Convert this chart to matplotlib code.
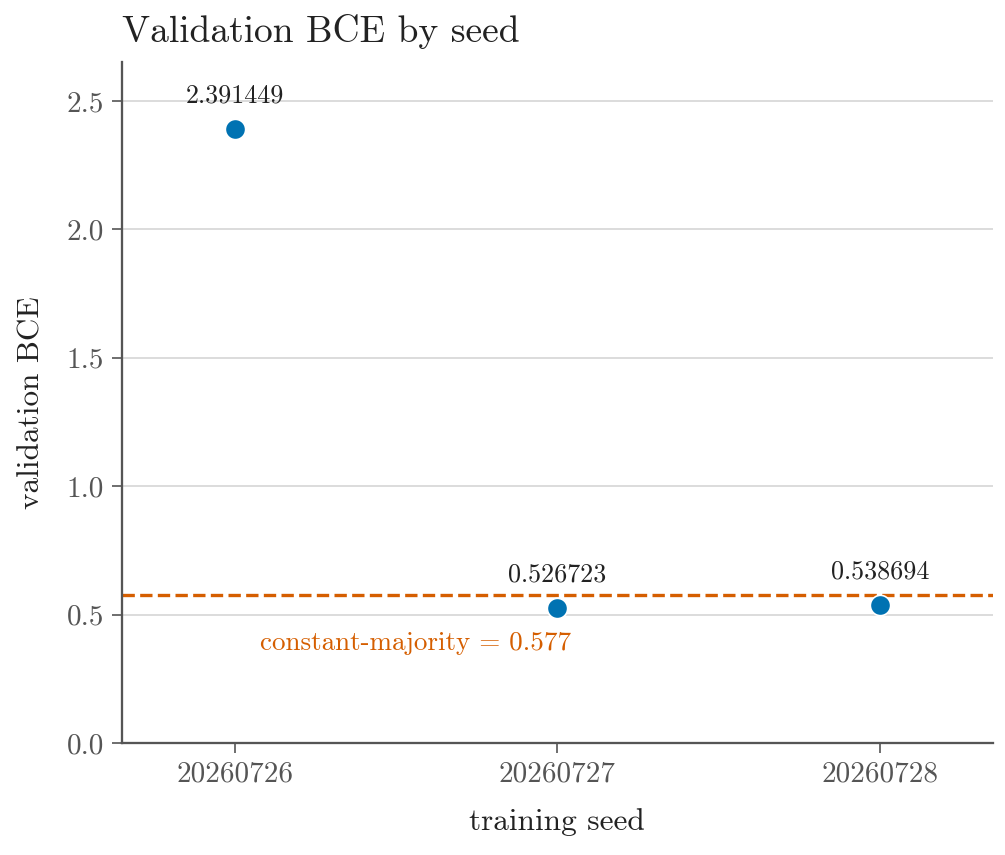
import numpy as np
import matplotlib.pyplot as plt

plt.rcParams['font.family'] = 'serif'
plt.rcParams['font.serif'] = ['cmr10', 'DejaVu Serif']
plt.rcParams['mathtext.fontset'] = 'cm'
plt.rcParams['axes.formatter.use_mathtext'] = True

seeds = ['20260726', '20260727', '20260728']
bce = [2.391449, 0.526723, 0.538694]
baseline = 0.577

fig, ax = plt.subplots(figsize=(6.7, 5.7), dpi=150)
fig.subplots_adjust(left=0.121, right=0.988, top=0.927, bottom=0.131)

x = np.arange(len(seeds))
ax.scatter(x, bce, s=95, color='#0072B2', zorder=3, edgecolor='white', linewidth=0.8)
for xi, v in zip(x, bce):
    ax.annotate(f'{v:.6f}', (xi, v), xytext=(0, 10), textcoords='offset points',
                ha='center', va='bottom', fontsize=12.5, color='#222222')

ax.axhline(baseline, color='#D55E00', linestyle='--', linewidth=1.6, zorder=2)
ax.text(0.56, baseline - 0.19, 'constant-majority = 0.577', color='#D55E00',
        fontsize=13, ha='center', va='center')

ax.set_xlim(-0.35, 2.35)
ax.set_ylim(0, 2.65)
ax.set_xticks(x)
ax.set_xticklabels(seeds)
ax.set_yticks(np.arange(0, 2.51, 0.5))
ax.set_yticklabels([f'{t:.1f}' for t in np.arange(0, 2.51, 0.5)])
ax.yaxis.grid(True, color='#d5d5d5', linewidth=0.8)
ax.set_axisbelow(True)
for s in ['top', 'right']:
    ax.spines[s].set_visible(False)
for s in ['left', 'bottom']:
    ax.spines[s].set_color('#555555')
    ax.spines[s].set_linewidth(1.1)
ax.tick_params(colors='#555555', labelsize=14, direction='out', length=5)
ax.set_xlabel('training seed', fontsize=15, color='#222222', labelpad=10)
ax.set_ylabel('validation BCE', fontsize=15, color='#222222', labelpad=10)
ax.set_title('Validation BCE by seed', fontsize=18, loc='left', color='#222222', pad=10)

fig.savefig('out.png')
